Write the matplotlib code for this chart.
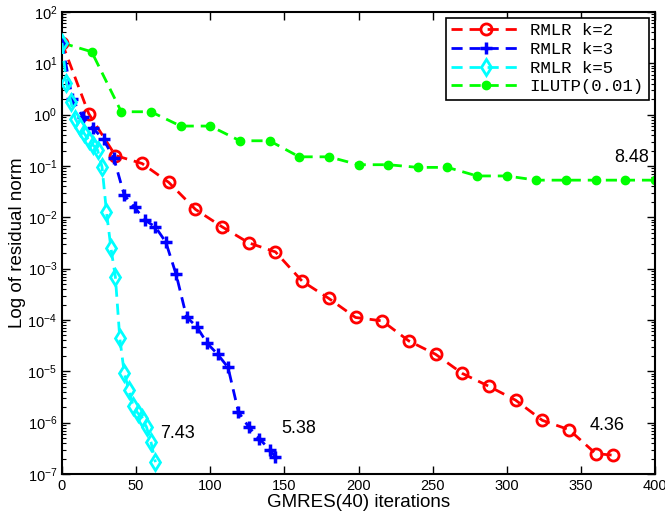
import numpy as np
import matplotlib
matplotlib.use("Agg")
import matplotlib.pyplot as plt
from matplotlib.ticker import LogLocator, MultipleLocator, NullFormatter

# RMLR k=2
x_k2 = [0, 18, 36, 54, 72, 90, 108, 126, 144, 162, 180, 198, 216, 234, 252,
        270, 288, 306, 324, 342, 360, 372]
y_k2 = [25, 1.05, 0.16, 0.112, 0.048, 0.0143, 0.00653, 0.00318, 0.00212,
        5.7e-4, 2.63e-4, 1.12e-4, 9.6e-5, 3.9e-5, 2.15e-5, 9.1e-6, 5.1e-6,
        2.74e-6, 1.11e-6, 7.3e-7, 2.5e-7, 2.32e-7]

# RMLR k=3
x_k3 = [0, 7, 14, 21, 28, 35, 42, 49, 56, 63, 70, 77, 84, 91, 98, 105, 112,
        119, 126, 133, 140, 144]
y_k3 = [25, 2.0, 0.91, 0.54, 0.33, 0.14, 0.027, 0.0156, 0.0088, 0.0065,
        0.0033, 7.7e-4, 1.15e-4, 7.3e-5, 3.5e-5, 2.15e-5, 1.19e-5, 1.62e-6,
        8.2e-7, 4.9e-7, 3.0e-7, 2.15e-7]

# RMLR k=5
x_k5 = [0, 3, 6, 9, 12, 15, 18, 21, 24, 27, 30, 33, 36, 39, 42, 45, 48, 51,
        54, 57, 60, 63]
y_k5 = [25, 4.07, 1.75, 0.83, 0.58, 0.43, 0.32, 0.255, 0.204, 0.096, 0.0128,
        0.00254, 6.9e-4, 4.37e-5, 9.3e-6, 4.4e-6, 2.1e-6, 1.55e-6, 1.26e-6,
        8.2e-7, 4.2e-7, 1.7e-7]

# ILUTP(0.01)
x_ilu = list(range(0, 401, 20))
y_ilu = [25, 16.8, 1.14, 1.14, 0.6, 0.6, 0.31, 0.31, 0.151, 0.151, 0.106,
         0.106, 0.094, 0.094, 0.064, 0.064, 0.053, 0.053, 0.053, 0.053, 0.053]

# timings written next to the curves
notes = ["8.48", "4.36", "5.38", "7.43"]
note_xy = [(396, 0.1), (368, 9e-7), (160, 7.8e-7), (78, 6.2e-7)]

plt.rcParams['font.family'] = ['Liberation Sans', 'DejaVu Sans']
plt.rcParams['mathtext.fontset'] = 'custom'
plt.rcParams['mathtext.rm'] = 'Liberation Sans'

fig = plt.figure(figsize=(6.65, 5.19), dpi=100, facecolor="white")
ax = fig.add_axes([62/665, 1 - 474/519, (655-62)/665, (474-12)/519])

dash = (4, 2.5)
ax.plot(x_ilu, y_ilu, color="#00ff00", ls="--", dashes=dash, lw=2, marker="o",
        ms=6, mfc="#00ff00", mec="#00ff00", label="ILUTP(0.01)", zorder=2)
ax.plot(x_k2, y_k2, color="#ff0000", ls="--", dashes=dash, lw=2, marker="o",
        ms=8, mfc="none", mec="#ff0000", mew=2, label="RMLR k=2", zorder=3)
ax.plot(x_k3, y_k3, color="#0000ff", ls="--", dashes=dash, lw=2, marker="+",
        ms=8, mec="#0000ff", mew=2.5, label="RMLR k=3", zorder=4)
ax.plot(x_k5, y_k5, color="#00ffff", ls="--", dashes=dash, lw=2, marker="d",
        ms=8, mfc="none", mec="#00ffff", mew=2, label="RMLR k=5", zorder=5)

ax.text(*note_xy[0], notes[0], fontsize=13, ha="right", va="bottom")
for s, (x, y) in zip(notes[1:], note_xy[1:]):
    ax.text(x, y, s, fontsize=13, ha="center", va="center")

ax.set_yscale("log")
ax.set_xlim(0, 400)
ax.set_ylim(1e-7, 1e2)
ax.xaxis.set_major_locator(MultipleLocator(50))
ax.yaxis.set_major_locator(LogLocator(base=10, numticks=20))
ax.yaxis.set_minor_locator(LogLocator(base=10, subs=np.arange(2, 10), numticks=20))
ax.yaxis.set_minor_formatter(NullFormatter())
ax.tick_params(which="both", direction="in", top=True, right=True, labelsize=10.5)
ax.tick_params(which="major", length=6, width=1)
ax.tick_params(which="minor", length=3, width=0.8)
for sp in ax.spines.values():
    sp.set_linewidth(1.5)

ax.set_xlabel("GMRES(40) iterations", fontsize=13.5, labelpad=1)
ax.set_ylabel("Log of residual norm", fontsize=13.5, labelpad=1)

h, l = ax.get_legend_handles_labels()
order = [1, 2, 3, 0]
leg = ax.legend([h[i] for i in order], [l[i] for i in order], loc="upper right",
                prop={"family": "Liberation Mono", "size": 12.5}, fancybox=False,
                edgecolor="black", framealpha=1, borderaxespad=0.35,
                handlelength=4.0, handletextpad=0.5, labelspacing=0.2,
                borderpad=0.3)
leg.get_frame().set_linewidth(1.2)

fig.savefig("out.png", dpi=100)
